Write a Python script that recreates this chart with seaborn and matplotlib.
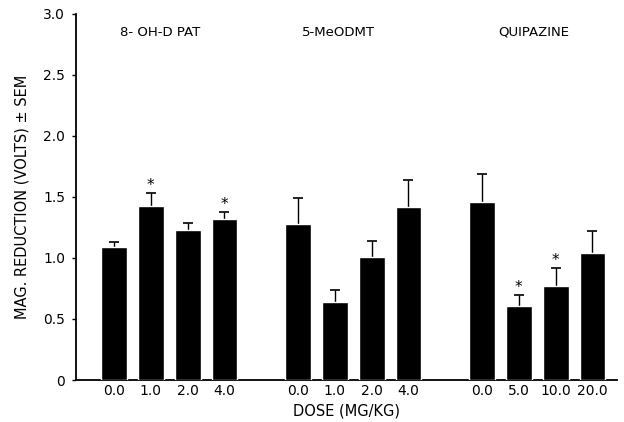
import numpy as np
import pandas as pd
import matplotlib
matplotlib.use("Agg")
import matplotlib.pyplot as plt
import seaborn as sns

# values
drugs = ["8- OH-D PAT", "5-MeODMT", "QUIPAZINE"]
dose_labels = [["0.0", "1.0", "2.0", "4.0"],
               ["0.0", "1.0", "2.0", "4.0"],
               ["0.0", "5.0", "10.0", "20.0"]]
means = [[1.09, 1.43, 1.23, 1.32],
         [1.28, 0.64, 1.01, 1.42],
         [1.46, 0.61, 0.77, 1.04]]
sems = [[0.04, 0.10, 0.06, 0.06],
        [0.21, 0.10, 0.13, 0.22],
        [0.23, 0.09, 0.15, 0.18]]
signif = [[False, True, False, True],
          [False, False, False, False],
          [False, True, True, False]]

rows = []
for g, drug in enumerate(drugs):
    for i, lab in enumerate(dose_labels[g]):
        rows.append({"drug": drug, "dose": lab, "pos": g * 5 + i,
                     "mean": means[g][i], "sem": sems[g][i], "sig": signif[g][i]})
df = pd.DataFrame(rows)

sns.set_style("ticks")
plt.rcParams["font.family"] = ["DejaVu Sans"]
for k in ["text.color", "axes.labelcolor", "xtick.color", "ytick.color", "axes.edgecolor"]:
    plt.rcParams[k] = "black"

fig = plt.figure(figsize=(6.24, 4.22), dpi=100)
ax = fig.add_axes([0.122, 0.0995, 0.867, 0.8675])

sns.barplot(data=df, x="pos", y="mean", native_scale=True, color="black",
            width=0.7, errorbar=None, saturation=1, ax=ax, zorder=3)
# SEM bars (only the upper half shows above the black bars)
ax.errorbar(df["pos"], df["mean"], yerr=df["sem"], fmt="none", ecolor="black",
            elinewidth=1, capsize=3.5, capthick=1.2, zorder=1)

for _, r in df[df["sig"]].iterrows():
    ax.annotate("*", (r["pos"], r["mean"] + r["sem"]), xytext=(0, 0),
                textcoords="offset points", ha="center", va="bottom", fontsize=11)

for g, drug in enumerate(drugs):
    ax.text([1.25, 6.1, 11.4][g], 2.85, drug, ha="center", va="center", fontsize=9.5)

ax.set_xlim(-1.03, 13.67)
ax.set_ylim(0, 3.0)
ax.set_xticks(df["pos"])
ax.set_xticklabels(df["dose"], fontsize=10)
ax.tick_params(axis="x", length=0, pad=3)
ax.set_yticks(np.arange(0, 3.01, 0.5))
ax.set_yticklabels(["0", "0.5", "1.0", "1.5", "2.0", "2.5", "3.0"], fontsize=10)
ax.tick_params(axis="y", length=3, width=1, pad=5)
ax.set_xlabel("DOSE (MG/KG)", fontsize=10.5, labelpad=4)
ax.set_ylabel("MAG. REDUCTION (VOLTS) \u00b1 SEM", fontsize=10.5, labelpad=10)
for s in ["left", "bottom"]:
    ax.spines[s].set_linewidth(1.3)
sns.despine(ax=ax)

fig.savefig("out.png", dpi=100)
